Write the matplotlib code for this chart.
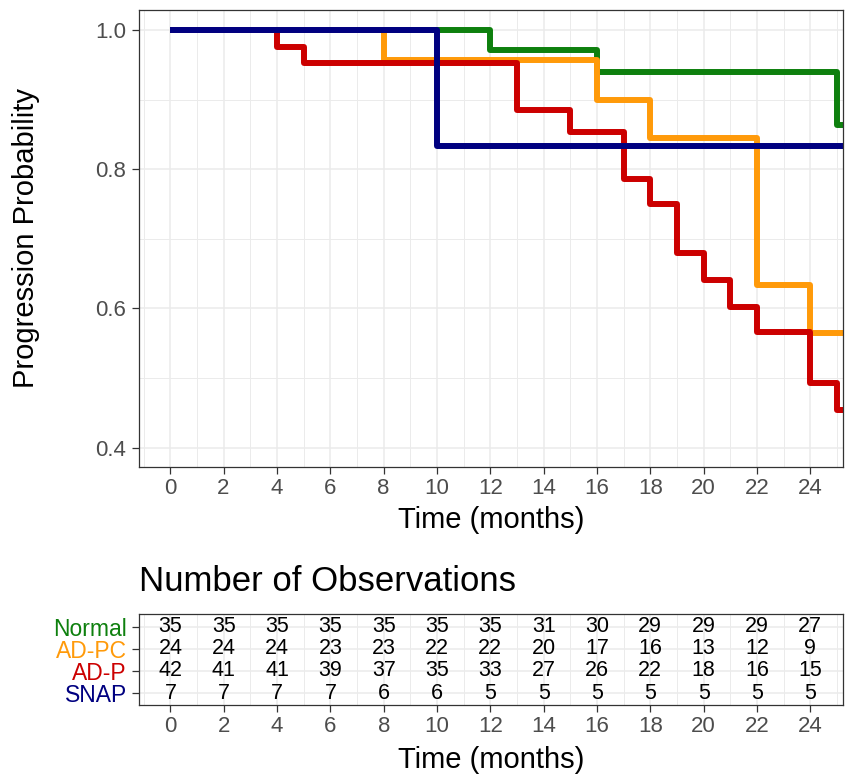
import matplotlib
matplotlib.use("Agg")
import matplotlib.pyplot as plt
import numpy as np

plt.rcParams['font.family'] = ['Liberation Sans', 'DejaVu Sans']

# ---- data ----
groups = ["Normal", "AD-PC", "AD-P", "SNAP"]
colors = ["#0E800E", "#FF9A0A", "#CC0000", "#000080"]

normal_t = [0, 12, 16, 25, 25.4]
normal_s = [1.0, 0.971, 0.939, 0.863, 0.863]
adpc_t = [0, 8, 16, 18, 22, 24, 25.4]
adpc_s = [1.0, 0.957, 0.900, 0.845, 0.634, 0.565, 0.565]
adp_t = [0, 4, 5, 13, 15, 17, 18, 19, 20, 21, 22, 24, 25, 25.4]
adp_s = [1.0, 0.976, 0.952, 0.885, 0.854, 0.786, 0.750, 0.680, 0.641, 0.602, 0.566, 0.493, 0.454, 0.454]
snap_t = [0, 10, 25.4]
snap_s = [1.0, 0.833, 0.833]

risk_times = [0, 2, 4, 6, 8, 10, 12, 14, 16, 18, 20, 22, 24]
risk_normal = [35, 35, 35, 35, 35, 35, 35, 31, 30, 29, 29, 29, 27]
risk_adpc = [24, 24, 24, 23, 23, 22, 22, 20, 17, 16, 13, 12, 9]
risk_adp = [42, 41, 41, 39, 37, 35, 33, 27, 26, 22, 18, 16, 15]
risk_snap = [7, 7, 7, 7, 6, 6, 5, 5, 5, 5, 5, 5, 5]

y_ticks = [0.4, 0.6, 0.8, 1.0]

W, H = 846, 776
fig = plt.figure(figsize=(W / 100, H / 100), dpi=100)

def frac_rect(l, t, r, b):
    return [l / W, 1 - b / H, (r - l) / W, (b - t) / H]

grid_c = "#EBEBEB"
border_c = "#333333"
tick_c = "#4D4D4D"

def style_axes(ax):
    for sp in ax.spines.values():
        sp.set_color(border_c)
        sp.set_linewidth(0.9)
    ax.tick_params(axis='both', which='major', length=5, width=0.9, color=border_c,
                   labelsize=16, labelcolor=tick_c)
    ax.tick_params(axis='x', which='major', pad=3)
    ax.tick_params(axis='y', which='major', pad=4)
    ax.tick_params(which='minor', length=0)
    ax.set_axisbelow(True)

# ---- survival panel ----
ax = fig.add_axes(frac_rect(139, 10, 842.5, 466.7))
style_axes(ax)
ax.set_xlim(-1.17, 25.21)
ax.set_ylim(0.3727, 1.0287)
ax.set_xticks(risk_times)
ax.set_xticks(np.arange(-1, 26, 2), minor=True)
ax.set_yticks(y_ticks)
ax.set_yticklabels([f"{v:.1f}" for v in y_ticks])
ax.set_yticks([0.5, 0.7, 0.9], minor=True)
ax.grid(which='major', color=grid_c, lw=1.1)
ax.grid(which='minor', color=grid_c, lw=0.7)

series = [(normal_t, normal_s), (adpc_t, adpc_s), (adp_t, adp_s), (snap_t, snap_s)]
for (t, s), c in zip(series, colors):
    ax.step(t, s, where='post', color=c, lw=4.3, solid_joinstyle='round',
            solid_capstyle='butt')

fig.text(490.75 / W, 1 - 520 / H, "Time (months)", ha='center', va='center', fontsize=21)
fig.text(26 / W, 1 - 238 / H, "Progression Probability", ha='center', va='center',
         rotation=90, fontsize=21)

# ---- risk table ----
fig.text(139 / W, 1 - 581.7 / H, "Number of Observations", ha='left', va='center',
         fontsize=25)

tx = fig.add_axes(frac_rect(139.3, 614.3, 842.5, 705.3))
style_axes(tx)
tx.set_xlim(-1.17, 25.21)
tx.set_ylim(0.45, 4.55)
tx.set_xticks(risk_times)
tx.set_xticks(np.arange(-1, 26, 2), minor=True)
tx.set_yticks([4, 3, 2, 1])
tx.set_yticklabels(groups)
for lab, c in zip(tx.get_yticklabels(), colors):
    lab.set_color(c)
    lab.set_fontsize(16.5)
tx.grid(which='major', color=grid_c, lw=1.1)
tx.grid(which='minor', axis='x', color=grid_c, lw=0.7)

risks = [risk_normal, risk_adpc, risk_adp, risk_snap]
for row, vals in zip([4, 3, 2, 1], risks):
    for t, v in zip(risk_times, vals):
        tx.text(t, row, str(v), ha='center', va='center', fontsize=15.5, color='black')

fig.text(490.75 / W, 1 - 760 / H, "Time (months)", ha='center', va='center', fontsize=21)

fig.savefig("out.png", dpi=100)
